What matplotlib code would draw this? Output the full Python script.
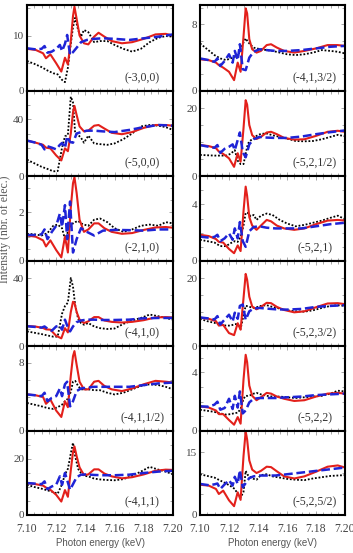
import matplotlib
matplotlib.use('Agg')
import matplotlib.pyplot as plt
from matplotlib.ticker import MultipleLocator, FormatStrFormatter

# --- energy grids (keV) for each kind of curve ---
RED_X = [7.100, 7.106, 7.111, 7.113, 7.116, 7.120, 7.1235, 7.126, 7.128, 7.130,
         7.1315, 7.1325, 7.134, 7.136, 7.139, 7.142, 7.146, 7.149, 7.153, 7.158,
         7.165, 7.172, 7.180, 7.188, 7.195, 7.200]
BLUE_X = [7.100, 7.106, 7.110, 7.112, 7.114, 7.117, 7.120, 7.1225, 7.124, 7.126,
          7.1275, 7.1295, 7.1315, 7.134, 7.137, 7.141, 7.146, 7.152, 7.160, 7.170,
          7.180, 7.190, 7.200]
BLACK_X = [7.100, 7.105, 7.110, 7.114, 7.118, 7.121, 7.124, 7.126, 7.128, 7.130,
           7.1315, 7.133, 7.135, 7.137, 7.139, 7.142, 7.146, 7.150, 7.155, 7.160,
           7.166, 7.172, 7.178, 7.184, 7.190, 7.195, 7.200]

# --- (-3,0,0) ---
red_m300 = [7.6, 7.4, 6.8, 5.9, 6.6, 5.0, 3.5, 6.0, 4.8, 9.0, 13.5, 15.2, 13.0, 10.0,
            8.6, 8.4, 9.8, 10.5, 9.8, 9.0, 8.6, 8.8, 9.4, 10.2, 10.3, 10.0]
blue_m300 = [7.7, 7.5, 7.6, 8.1, 6.9, 7.1, 7.6, 8.3, 7.2, 8.5, 10.1, 6.5, 7.0, 7.8,
             8.8, 9.2, 9.4, 9.5, 9.4, 9.2, 9.5, 9.8, 10.2]
black_m300 = [5.4, 4.9, 4.3, 3.7, 3.2, 3.0, 2.0, 1.6, 4.2, 8.5, 11.5, 13.2, 11.0, 9.8,
              11.0, 10.6, 8.8, 9.0, 9.0, 8.3, 7.6, 7.1, 7.6, 8.8, 9.6, 9.9, 9.8]

# --- (-5,0,0) ---
red_m500 = [25.0, 23.5, 22.0, 20.0, 19.5, 14.5, 11.0, 19.5, 17.5, 30.0, 45.0, 49.5, 43.0,
            35.0, 31.5, 32.0, 35.5, 36.0, 33.5, 30.5, 29.5, 31.0, 34.0, 36.0, 36.0, 35.5]
blue_m500 = [25.0, 23.5, 22.0, 18.8, 21.0, 20.0, 18.8, 22.0, 23.3, 19.8, 28.0, 24.0, 23.5,
             30.0, 31.0, 32.0, 32.0, 31.5, 31.0, 32.5, 34.5, 36.0, 35.5]
black_m500 = [11.5, 9.0, 6.5, 5.0, 3.3, 3.5, 20.0, 28.0, 29.0, 56.0, 52.0, 30.0, 29.0, 27.0,
              23.5, 28.5, 23.0, 22.5, 22.0, 23.0, 26.0, 30.0, 35.0, 36.0, 35.5, 34.5, 32.5]

# --- (-2,1,0) ---
red_m210 = [1.05, 1.0, 0.85, 0.6, 0.85, 0.45, 0.15, 1.0, 0.35, 2.2, 3.2, 3.45, 2.8, 1.7,
            1.2, 1.3, 1.55, 1.55, 1.35, 1.2, 1.12, 1.15, 1.28, 1.38, 1.4, 1.37]
blue_m210 = [1.07, 1.07, 1.1, 1.3, 0.9, 1.2, 1.45, 1.95, 1.4, 2.3, 0.9, 2.45, 0.35, 0.9,
             1.35, 1.2, 1.05, 1.25, 1.28, 1.27, 1.25, 1.3, 1.3]
black_m210 = [1.12, 1.1, 1.05, 1.15, 1.45, 1.5, 1.35, 0.9, 1.2, 1.45, 1.55, 1.6, 1.65, 1.55,
              1.5, 1.45, 1.7, 1.75, 1.6, 1.35, 1.2, 1.3, 1.45, 1.5, 1.45, 1.6, 1.55]

# --- (-4,1,0) ---
red_m410 = [11.8, 11.4, 10.6, 9.8, 9.6, 6.0, 4.5, 10.5, 8.0, 20.0, 26.0, 25.5, 20.0, 15.5,
            13.5, 14.5, 17.0, 17.0, 15.0, 14.2, 13.8, 14.2, 15.2, 16.8, 17.0, 16.8]
blue_m410 = [11.6, 11.2, 10.8, 11.5, 10.2, 9.0, 11.5, 12.0, 9.6, 15.5, 12.0, 8.6, 11.5,
             14.0, 15.0, 15.5, 15.5, 15.3, 15.3, 15.5, 16.3, 16.5, 16.5]
black_m410 = [8.6, 7.8, 7.0, 6.2, 5.5, 5.5, 19.0, 23.5, 25.5, 40.0, 35.0, 24.0, 16.0, 13.5,
              12.5, 13.5, 11.5, 10.5, 10.0, 10.3, 13.0, 15.0, 16.5, 18.5, 17.5, 16.5, 15.5]

# --- (-4,1,1/2) ---
red_m41h = [4.3, 4.2, 4.0, 3.2, 3.7, 2.4, 1.65, 3.5, 2.8, 6.5, 8.8, 9.4, 7.8, 5.8, 4.9,
            4.9, 5.8, 5.9, 5.3, 4.9, 4.7, 5.0, 5.5, 5.9, 5.8, 5.7]
blue_m41h = [4.3, 4.2, 4.1, 4.5, 3.5, 3.9, 4.1, 5.0, 4.1, 5.5, 5.8, 2.9, 3.5, 4.7, 5.0,
             5.1, 5.2, 5.2, 5.2, 5.2, 5.4, 5.6, 5.7]
black_m41h = [3.3, 3.1, 2.9, 2.7, 2.6, 2.8, 3.1, 3.5, 3.8, 4.6, 5.8, 5.9, 5.3, 4.9, 4.9,
              4.9, 4.8, 4.8, 4.5, 4.3, 4.5, 4.9, 5.3, 5.5, 5.4, 5.2, 4.9]

# --- (-4,1,1) ---
red_m411 = [11.4, 11.0, 10.5, 9.8, 9.0, 7.2, 4.8, 8.9, 6.5, 16.0, 22.5, 24.5, 21.0, 17.0,
            14.3, 14.5, 16.3, 16.3, 14.8, 13.8, 13.1, 13.5, 14.5, 15.8, 16.2, 16.1]
blue_m411 = [11.4, 11.2, 11.0, 12.0, 9.2, 10.2, 10.8, 13.8, 10.8, 15.0, 12.5, 9.0, 11.0,
             13.5, 14.4, 14.5, 14.3, 14.2, 14.2, 14.4, 15.0, 15.5, 15.8]
black_m411 = [10.8, 10.0, 9.4, 8.8, 8.2, 7.6, 11.0, 14.5, 16.5, 22.0, 25.8, 21.0, 16.5, 15.0,
              14.0, 13.8, 13.0, 12.7, 12.5, 12.4, 12.8, 14.0, 15.5, 17.2, 16.2, 15.5, 14.5]

# --- (-4,1,3/2) ---
red_m413h = [3.8, 3.7, 3.4, 3.1, 2.8, 2.3, 1.3, 3.4, 2.3, 6.5, 9.9, 9.3, 6.2, 5.0, 4.6,
             4.8, 5.5, 5.6, 5.2, 4.8, 4.6, 4.8, 5.1, 5.5, 5.5, 5.4]
blue_m413h = [3.9, 3.7, 3.5, 3.9, 3.0, 3.6, 4.4, 3.4, 4.8, 3.7, 5.6, 2.6, 2.5, 4.0, 4.7,
              5.0, 4.9, 4.8, 4.8, 4.9, 5.1, 5.3, 5.4]
black_m413h = [5.7, 5.0, 4.3, 3.9, 3.7, 3.9, 4.1, 4.1, 5.0, 5.8, 6.3, 5.9, 5.5, 5.2, 5.1,
               5.0, 4.9, 4.8, 4.6, 4.4, 4.3, 4.4, 4.6, 4.9, 4.8, 4.7, 4.5]

# --- (-5,2,1/2) ---
red_m521h = [9.1, 8.8, 8.2, 7.2, 6.5, 5.2, 2.7, 6.7, 4.2, 14.0, 22.3, 21.0, 15.0, 12.0,
             10.9, 11.5, 12.8, 13.0, 12.3, 11.2, 10.7, 10.8, 11.8, 13.0, 13.3, 13.0]
blue_m521h = [9.1, 8.6, 8.3, 9.1, 6.8, 8.0, 8.6, 9.3, 7.6, 10.6, 12.8, 7.0, 5.5, 9.3, 10.8,
              11.5, 11.3, 11.2, 11.2, 11.6, 12.3, 12.9, 13.4]
black_m521h = [6.2, 6.1, 6.0, 6.0, 6.0, 6.5, 7.6, 4.5, 3.5, 3.5, 6.5, 9.5, 10.5, 11.0, 11.8,
               12.4, 12.5, 12.0, 11.5, 11.0, 10.3, 10.2, 10.3, 10.8, 11.5, 12.1, 11.7]

# --- (-5,2,1) ---
red_m521 = [1.85, 1.76, 1.55, 1.35, 1.3, 0.85, 0.55, 1.1, 0.7, 3.5, 5.25, 4.6, 3.1, 2.5,
            2.2, 2.5, 2.9, 2.8, 2.5, 2.3, 2.2, 2.3, 2.6, 2.85, 2.9, 2.85]
blue_m521 = [1.72, 1.65, 1.7, 1.85, 1.4, 1.6, 1.95, 1.5, 2.3, 1.6, 2.75, 1.4, 1.0, 2.1,
             2.4, 2.45, 2.35, 2.3, 2.3, 2.3, 2.45, 2.6, 2.7]
black_m521 = [1.5, 1.4, 1.3, 1.05, 1.05, 1.25, 1.4, 1.35, 1.7, 2.5, 3.4, 3.4, 3.15, 3.25,
              2.9, 3.2, 3.35, 3.25, 2.9, 2.65, 2.45, 2.55, 2.7, 2.85, 3.05, 3.2, 2.95]

# --- (-5,2,3/2) ---
red_m523h = [8.3, 8.0, 7.3, 6.0, 6.2, 3.8, 3.2, 6.7, 4.8, 14.0, 21.2, 19.5, 14.5, 11.6,
             10.8, 11.5, 12.7, 12.6, 11.5, 10.6, 9.9, 10.2, 11.4, 12.5, 12.6, 12.3]
blue_m523h = [8.4, 8.1, 7.8, 8.8, 6.3, 7.8, 9.2, 7.2, 9.8, 8.0, 11.8, 12.2, 7.7, 10.2,
              11.0, 11.2, 11.0, 10.8, 10.7, 10.9, 11.5, 11.8, 12.0]
black_m523h = [8.0, 7.3, 6.8, 6.3, 6.0, 6.0, 6.4, 6.5, 5.0, 9.0, 11.8, 11.7, 11.4, 11.2,
               11.4, 11.8, 12.0, 11.5, 11.0, 10.5, 10.2, 10.1, 10.5, 11.2, 11.8, 12.0, 11.8]

# --- (-5,2,2) ---
red_m522 = [1.68, 1.6, 1.4, 1.15, 1.15, 0.75, 0.43, 0.95, 0.5, 3.5, 5.2, 4.7, 3.1, 2.4,
            2.1, 2.3, 2.6, 2.55, 2.35, 2.2, 2.05, 2.1, 2.35, 2.55, 2.6, 2.55]
blue_m522 = [1.68, 1.66, 1.8, 2.0, 1.45, 1.57, 2.2, 1.5, 2.4, 1.6, 2.7, 1.2, 1.4, 1.95,
             2.2, 2.25, 2.25, 2.25, 2.3, 2.35, 2.45, 2.5, 2.55]
black_m522 = [1.45, 1.38, 1.3, 1.2, 1.12, 1.15, 1.22, 1.25, 1.5, 2.2, 2.4, 2.4, 2.45, 2.55,
              2.6, 2.5, 2.4, 2.35, 2.35, 2.3, 2.25, 2.3, 2.35, 2.4, 2.55, 2.75, 2.7]

# --- (-5,2,5/2) ---
red_m525h = [7.2, 7.0, 6.2, 5.0, 5.8, 3.5, 2.1, 5.4, 3.6, 14.0, 19.9, 18.0, 13.0, 10.8,
             10.0, 10.5, 11.5, 11.4, 10.4, 9.2, 8.7, 9.2, 10.3, 11.5, 11.8, 11.3]
blue_m525h = [7.4, 7.1, 7.3, 7.5, 6.2, 7.3, 8.3, 7.0, 9.1, 7.4, 10.7, 6.6, 7.6, 8.8, 9.2,
              9.4, 9.4, 9.4, 9.7, 10.1, 10.5, 10.9, 11.3]
black_m525h = [9.7, 9.3, 8.9, 8.2, 7.5, 6.9, 6.2, 5.0, 4.2, 5.5, 10.5, 9.5, 9.0, 8.6, 8.4,
               9.5, 9.7, 9.2, 8.9, 8.6, 8.4, 8.3, 8.7, 9.0, 9.3, 9.4, 9.5]

# --- panel labels and y axis ranges ---
LEFT_LABELS = ['(-3,0,0)', '(-5,0,0)', '(-2,1,0)', '(-4,1,0)', '(-4,1,1/2)', '(-4,1,1)']
RIGHT_LABELS = ['(-4,1,3/2)', '(-5,2,1/2)', '(-5,2,1)', '(-5,2,3/2)', '(-5,2,2)', '(-5,2,5/2)']
LEFT_YMAX = [15.5, 60, 3.5, 50, 10, 30]
RIGHT_YMAX = [10.3, 25, 6, 25, 5.8, 20]
LEFT_YMAJOR = [10, 40, 2, 40, 8, 20]
RIGHT_YMAJOR = [8, 20, 4, 20, 4, 15]
LEFT_YMINOR = [5, 10, 0.5, 10, 2, 5]
RIGHT_YMINOR = [2, 5, 1, 5, 1, 5]

LEFT_CURVES = [(red_m300, blue_m300, black_m300), (red_m500, blue_m500, black_m500),
               (red_m210, blue_m210, black_m210), (red_m410, blue_m410, black_m410),
               (red_m41h, blue_m41h, black_m41h), (red_m411, blue_m411, black_m411)]
RIGHT_CURVES = [(red_m413h, blue_m413h, black_m413h), (red_m521h, blue_m521h, black_m521h),
                (red_m521, blue_m521, black_m521), (red_m523h, blue_m523h, black_m523h),
                (red_m522, blue_m522, black_m522), (red_m525h, blue_m525h, black_m525h)]

RED = '#e3201b'
BLUE = '#1f24d6'
TICK_GRAY = '#999999'
LABEL_GRAY = '#444444'

plt.rcParams['font.family'] = ['Liberation Serif', 'DejaVu Serif']

W, H = 353, 553
ROW_EDGES = [5, 91, 176, 261, 346, 431, 515]
COLS = [(27, 146), (200, 145)]

fig = plt.figure(figsize=(W / 100, H / 100), dpi=100, facecolor='white')

for col, (x0, w) in enumerate(COLS):
    labels = LEFT_LABELS if col == 0 else RIGHT_LABELS
    ymaxs = LEFT_YMAX if col == 0 else RIGHT_YMAX
    majors = LEFT_YMAJOR if col == 0 else RIGHT_YMAJOR
    minors = LEFT_YMINOR if col == 0 else RIGHT_YMINOR
    curves = LEFT_CURVES if col == 0 else RIGHT_CURVES
    for row in range(6):
        top, bot = ROW_EDGES[row], ROW_EDGES[row + 1]
        ax = fig.add_axes([x0 / W, 1 - bot / H, w / W, (bot - top) / H])
        red, blue, black = curves[row]
        ax.plot(BLACK_X, black, color='black', lw=1.3, ls=(0, (1, 1)))
        ax.plot(RED_X, red, color=RED, lw=1.5)
        ax.plot(BLUE_X, blue, color=BLUE, lw=1.8, ls=(0, (3.5, 1.5)))

        ax.set_xlim(7.10, 7.20)
        ax.set_ylim(0, ymaxs[row])
        ax.xaxis.set_major_locator(MultipleLocator(0.02))
        ax.xaxis.set_minor_locator(MultipleLocator(0.005))
        ax.xaxis.set_major_formatter(FormatStrFormatter('%.2f'))
        ax.yaxis.set_major_locator(MultipleLocator(majors[row]))
        ax.yaxis.set_minor_locator(MultipleLocator(minors[row]))
        ax.tick_params(which='both', direction='in', top=True, right=True,
                       color=TICK_GRAY, width=0.6, labelcolor=LABEL_GRAY,
                       labelsize=8, pad=2)
        ax.tick_params(which='major', length=3)
        ax.tick_params(which='minor', length=2)
        if row < 5:
            ax.tick_params(labelbottom=False)
        else:
            ax.tick_params(axis='x', labelsize=8.5, pad=6)
            ax.set_xlabel('Photon energy (keV)', family='Liberation Sans',
                          fontsize=7, color='#555555', labelpad=2)
        for spine in ax.spines.values():
            spine.set_linewidth(1.5)
            spine.set_color('black')
        ax.text(0.79, 0.15, labels[row], transform=ax.transAxes, ha='center',
                va='center', fontsize=8.5, color='#333333')

fig.text(0.014, 0.585, 'Intensity (nbr. of elec.)', rotation=90, ha='center',
         va='center', fontsize=8.5, color='#555555')

fig.savefig('out.png', dpi=100, facecolor='white')
